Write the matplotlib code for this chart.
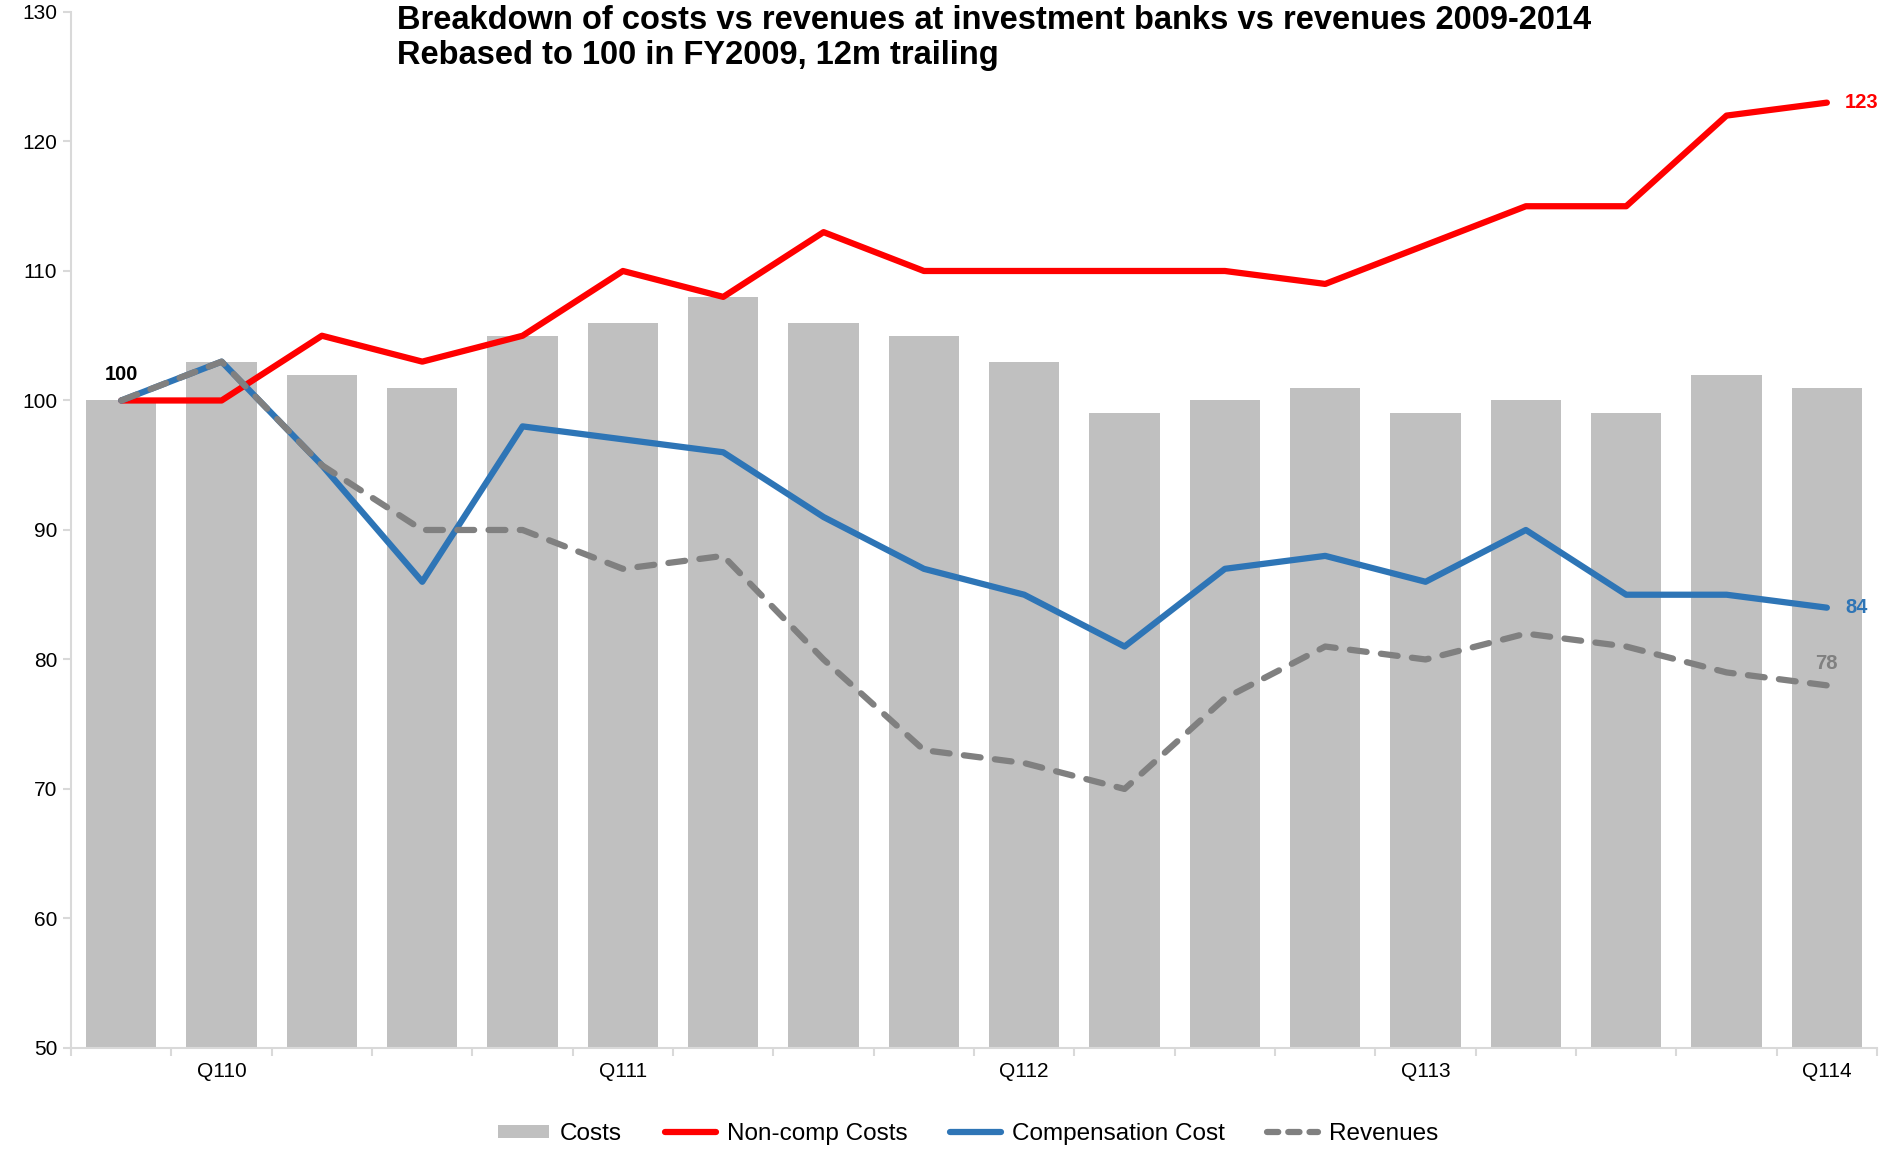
import matplotlib
matplotlib.use("Agg")
import matplotlib.pyplot as plt
import numpy as np
from matplotlib.patches import Patch
from matplotlib.lines import Line2D

plt.rcParams['font.family'] = ['Liberation Sans', 'DejaVu Sans']

categories = ["Q409", "Q110", "Q210", "Q310", "Q410", "Q111", "Q211", "Q311", "Q411",
              "Q112", "Q212", "Q312", "Q412", "Q113", "Q213", "Q313", "Q413", "Q114"]
tick_labels = ["", "Q110", "", "", "", "Q111", "", "", "", "Q112", "", "", "", "Q113", "", "", "", "Q114"]
costs = [100, 103, 102, 101, 105, 106, 108, 106, 105, 103, 99, 100, 101, 99, 100, 99, 102, 101]
noncomp = [100, 100, 105, 103, 105, 110, 108, 113, 110, 110, 110, 110, 109, 112, 115, 115, 122, 123]
comp = [100, 103, 95, 86, 98, 97, 96, 91, 87, 85, 81, 87, 88, 86, 90, 85, 85, 84]
revenues = [100, 103, 95, 90, 90, 87, 88, 80, 73, 72, 70, 77, 81, 80, 82, 81, 79, 78]
title_lines = ["Breakdown of costs vs revenues at investment banks vs revenues 2009-2014",
               "Rebased to 100 in FY2009, 12m trailing"]

RED = "#FF0000"
BLUE = "#2E75B6"
GREY = "#808080"
BAR = "#C0C0C0"
AX = "#D9D9D9"
LW = 4.5

fig = plt.figure(figsize=(18.96, 11.53), dpi=100)
ax = fig.add_axes([0.0375, 0.0911, 0.9525, 0.8985])
x = np.arange(len(categories))

ax.bar(x, costs, width=0.7, color=BAR, zorder=1)
ax.plot(x, noncomp, color=RED, lw=LW, solid_capstyle='round', solid_joinstyle='round', zorder=3)
ax.plot(x, comp, color=BLUE, lw=LW, solid_capstyle='round', solid_joinstyle='round', zorder=4)
ax.plot(x, revenues, color=GREY, lw=LW, dashes=(2.7, 2.3), dash_capstyle='round', zorder=5)

ax.set_xlim(-0.5, len(categories) - 0.5)
ax.set_ylim(50, 130)
ax.set_yticks(np.arange(50, 131, 10))

for s in ['top', 'right']:
    ax.spines[s].set_visible(False)
for s in ['left', 'bottom']:
    ax.spines[s].set_color(AX)
    ax.spines[s].set_linewidth(1.5)

ax.set_xticks(np.arange(-0.5, len(categories), 1.0))
ax.set_xticklabels([])
ax.set_xticks(x, minor=True)
ax.set_xticklabels(tick_labels, minor=True, fontsize=15)
ax.tick_params(axis='x', which='major', length=6, width=1.5, color=AX, direction='out')
ax.tick_params(axis='x', which='minor', length=0, pad=10)
ax.tick_params(axis='y', length=6, width=1.5, color=AX, direction='out', labelsize=15, pad=4)

fig.text(0.2095, 1 - 29 / 1153, title_lines[0], fontsize=23.5, fontweight='bold', va='baseline', ha='left')
fig.text(0.2095, 1 - 64 / 1153, title_lines[1], fontsize=23.5, fontweight='bold', va='baseline', ha='left')

ax.annotate(f"{noncomp[0]}", (x[0], noncomp[0]), xytext=(0, 12), textcoords='offset points',
            ha='center', va='bottom', fontsize=14.5, fontweight='bold', color='black')
ax.annotate(f"{noncomp[-1]}", (x[-1], noncomp[-1]), xytext=(13, 0), textcoords='offset points',
            ha='left', va='center', fontsize=14.5, fontweight='bold', color=RED)
ax.annotate(f"{comp[-1]}", (x[-1], comp[-1]), xytext=(13, 0), textcoords='offset points',
            ha='left', va='center', fontsize=14.5, fontweight='bold', color=BLUE)
ax.annotate(f"{revenues[-1]}", (x[-1], revenues[-1]), xytext=(0, 9), textcoords='offset points',
            ha='center', va='bottom', fontsize=14.5, fontweight='bold', color=GREY)

handles = [
    Patch(facecolor=BAR, edgecolor='none', label="Costs"),
    Line2D([], [], color=RED, lw=LW, solid_capstyle='round', label="Non-comp Costs"),
    Line2D([], [], color=BLUE, lw=LW, solid_capstyle='round', label="Compensation Cost"),
    Line2D([], [], color=GREY, lw=LW, dashes=(1.8, 1.6), dash_capstyle='round', label="Revenues"),
]
fig.legend(handles=handles, loc='center', bbox_to_anchor=(0.5107, 0.0165), ncol=4, frameon=False,
           fontsize=17.5, handlelength=2.1, handleheight=0.45, columnspacing=1.75, handletextpad=0.45)

fig.savefig("out.png", dpi=100)
